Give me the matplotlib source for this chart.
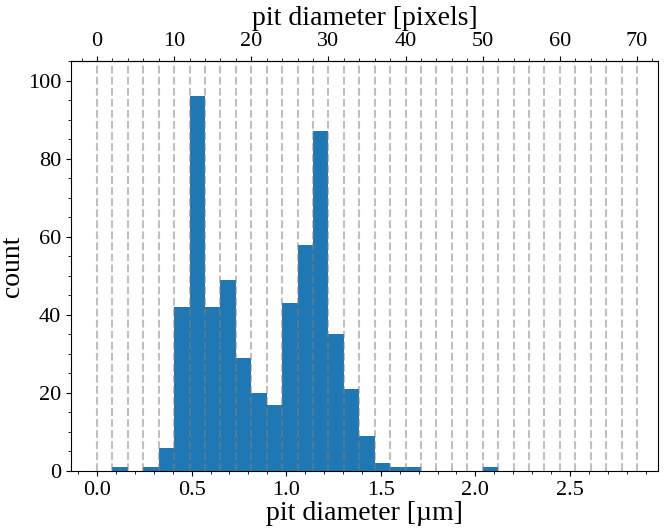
import numpy as np
import matplotlib
matplotlib.use('Agg')
import matplotlib.pyplot as plt
from matplotlib.ticker import MultipleLocator, FixedLocator

plt.rcParams['font.family'] = ['Liberation Serif', 'DejaVu Serif']

# pixel size of the image in micrometres
px_size = 0.04077

# histogram: bins of 2 pixels, left edges in pixels
bin_left_px = [2, 6, 8, 10, 12, 14, 16, 18, 20, 22, 24, 26, 28, 30, 32, 34, 36, 38, 40, 50]
bin_counts = [1, 1, 6, 42, 96, 42, 49, 29, 20, 17, 43, 58, 87, 35, 21, 9, 2, 1, 1, 1]
bin_width_px = 2

# dashed guide lines at every bin edge (pixels)
grid_px = np.arange(0, 71, 2)
top_ticks = [0, 10, 20, 30, 40, 50, 60, 70]
top_minor = np.arange(-2, 73, 2)

fig = plt.figure(figsize=(6.64, 5.31), dpi=100)
ax = fig.add_axes([0.107, 0.113, 0.884, 0.772])

left_um = np.array(bin_left_px) * px_size
ax.bar(left_um, bin_counts, width=bin_width_px * px_size, align='edge',
       color='#1f77b4', zorder=1)

for g in grid_px:
    ax.axvline(g * px_size, color='gray', alpha=0.5, linestyle='--',
               linewidth=1.5, zorder=2)

ax.set_xlim(-0.137, 2.965)
ax.set_ylim(0, 105)
ax.xaxis.set_major_locator(MultipleLocator(0.5))
ax.xaxis.set_minor_locator(MultipleLocator(0.1))
ax.yaxis.set_major_locator(MultipleLocator(20))
ax.yaxis.set_minor_locator(MultipleLocator(5))
ax.tick_params(labelsize=16)

ax.set_xlabel('pit diameter [µm]', fontsize=20, labelpad=1)
ax.set_ylabel('count', fontsize=20, labelpad=2)

top = ax.secondary_xaxis('top', functions=(lambda x: x / px_size,
                                           lambda p: p * px_size))
top.xaxis.set_major_locator(FixedLocator(top_ticks))
top.xaxis.set_minor_locator(FixedLocator(top_minor))
top.tick_params(labelsize=16)
top.set_xlabel('pit diameter [pixels]', fontsize=20, labelpad=5)

fig.savefig('out.png', dpi=100)
